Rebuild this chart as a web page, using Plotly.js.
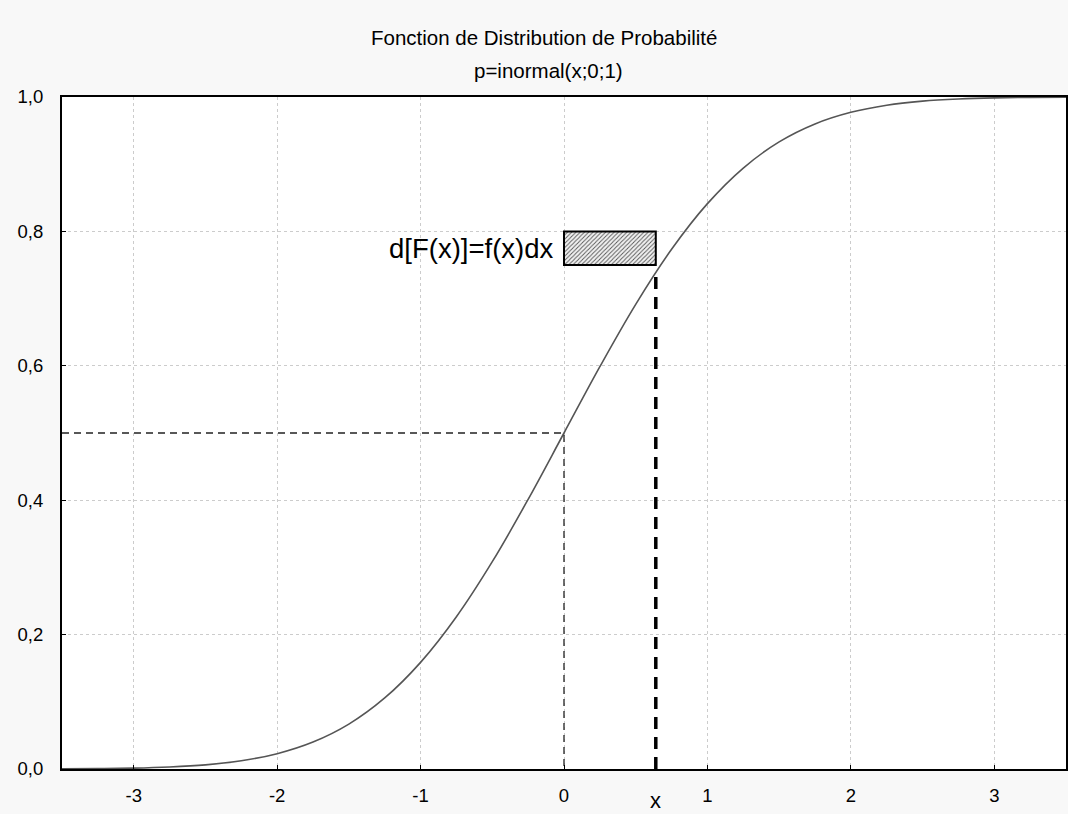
<!DOCTYPE html>
<html>
<head>
<meta charset="utf-8">
<script src="https://cdn.plot.ly/plotly-3.0.1.min.js"></script>
<style>
  html, body { margin: 0; padding: 0; background: #f8f8f8; }
  #chart { width: 1068px; height: 814px; }
</style>
</head>
<body>
<div id="chart"></div>
<script>
// Standard normal cumulative distribution p = inormal(x;0;1)
const xs = [-3.5, -3.25, -3.0, -2.75, -2.5, -2.25, -2.0, -1.75, -1.5, -1.25, -1.0, -0.75, -0.5, -0.25,
            0, 0.25, 0.5, 0.75, 1.0, 1.25, 1.5, 1.75, 2.0, 2.25, 2.5, 2.75, 3.0, 3.25, 3.5];
const ps = [0.0002, 0.0006, 0.0013, 0.0030, 0.0062, 0.0122, 0.0228, 0.0401, 0.0668, 0.1057, 0.1587, 0.2266, 0.3085, 0.4013,
            0.5, 0.5987, 0.6915, 0.7734, 0.8413, 0.8943, 0.9332, 0.9599, 0.9772, 0.9878, 0.9938, 0.9970, 0.9987, 0.9994, 0.9998];

// Median guide and the chosen point x with its value F(x)
const medianX = 0;
const medianP = 0.5;
const pointX = 0.64;
const pointP = 0.735;

// Increment box d[F(x)] = f(x)dx
const boxX = [0, 0.64];
const boxP = [0.75, 0.80];

const xTicks = [-3, -2, -1, 0, 1, 2, 3];
const xTickText = ['-3', '-2', '-1', '0', '1', '2', '3'];
const yTicks = [0, 0.2, 0.4, 0.6, 0.8, 1.0];
const yTickText = ['0,0', '0,2', '0,4', '0,6', '0,8', '1,0'];

const traces = [
  {
    x: xs, y: ps, type: 'scatter', mode: 'lines',
    line: { color: '#555555', width: 1.6, shape: 'spline' },
    hoverinfo: 'skip'
  },
  {
    x: [-3.5, medianX, medianX], y: [medianP, medianP, 0], type: 'scatter', mode: 'lines',
    line: { color: '#222222', width: 1.3, dash: '7px,5px' },
    hoverinfo: 'skip'
  },
  {
    x: [pointX, pointX], y: [0, pointP], type: 'scatter', mode: 'lines',
    line: { color: '#000000', width: 3.5, dash: '12px,8px' },
    hoverinfo: 'skip'
  },
  {
    x: [(boxX[0] + boxX[1]) / 2], y: [boxP[1] - boxP[0]], base: [boxP[0]],
    width: [boxX[1] - boxX[0]], type: 'bar',
    marker: {
      color: '#f2f2f2',
      line: { color: '#000000', width: 2 },
      pattern: { shape: '/', size: 3, solidity: 0.3, fgcolor: '#555555', bgcolor: '#f2f2f2' }
    },
    hoverinfo: 'skip'
  }
];

const layout = {
  width: 1068, height: 814,
  margin: { l: 62, r: 2, t: 97, b: 45 },
  paper_bgcolor: '#f8f8f8',
  plot_bgcolor: '#ffffff',
  showlegend: false,
  font: { family: 'Liberation Sans, Arial, sans-serif', color: '#000000', size: 18.5 },
  xaxis: {
    range: [-3.5, 3.5], tickvals: xTicks, ticktext: xTickText, ticks: 'inside', ticklen: 4, tickcolor: '#000',
    showline: true, linecolor: '#000', linewidth: 2, mirror: true,
    showgrid: true, gridcolor: '#cccccc', griddash: 'dot', gridwidth: 1,
    zeroline: false, ticklabelstandoff: 9, fixedrange: true
  },
  yaxis: {
    range: [0, 1.0], tickvals: yTicks, ticktext: yTickText, ticks: 'inside', ticklen: 4, tickcolor: '#000',
    showline: true, linecolor: '#000', linewidth: 2, mirror: true,
    showgrid: true, gridcolor: '#cccccc', griddash: 'dot', gridwidth: 1,
    zeroline: false, ticklabelstandoff: 13, fixedrange: true
  },
  annotations: [
    { text: 'Fonction de Distribution de Probabilité', xref: 'paper', yref: 'paper',
      x: 0.5, y: 1, xshift: -20, yshift: 60, xanchor: 'center', yanchor: 'middle', showarrow: false,
      font: { size: 20.5 } },
    { text: 'p=inormal(x;0;1)', xref: 'paper', yref: 'paper',
      x: 0.5, y: 1, xshift: -16, yshift: 27, xanchor: 'center', yanchor: 'middle', showarrow: false,
      font: { size: 20.5 } },
    { text: 'd[F(x)]=f(x)dx', xref: 'x', yref: 'y',
      x: boxX[0], y: (boxP[0] + boxP[1]) / 2, xshift: -9, xanchor: 'right', yanchor: 'middle',
      showarrow: false, font: { size: 27.5 } },
    { text: 'x', xref: 'x', yref: 'paper',
      x: pointX, y: 0, yshift: -31, xanchor: 'center', yanchor: 'middle',
      showarrow: false, font: { size: 22 } }
  ]
};

Plotly.newPlot('chart', traces, layout, { displayModeBar: false, staticPlot: true });
</script>
</body>
</html>
